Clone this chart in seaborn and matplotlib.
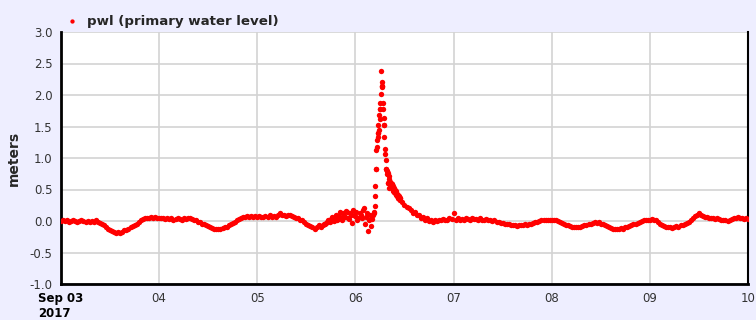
import numpy as np
import pandas as pd
import matplotlib
matplotlib.use('Agg')
import matplotlib.pyplot as plt
import seaborn as sns

# Primary water level (m), 30-minute readings, one list per day
sep03 = [0.00, 0.01, 0.00, 0.01, -0.01, 0.00, 0.01, 0.00, -0.01, 0.00, 0.01, 0.00,
         -0.01, 0.00, -0.01, 0.00, -0.01, 0.01, -0.02, -0.03, -0.05, -0.07, -0.10, -0.12,
         -0.14, -0.16, -0.18, -0.19, -0.18, -0.19, -0.17, -0.15, -0.14, -0.12, -0.10, -0.08,
         -0.06, -0.04, -0.01, 0.01, 0.03, 0.04, 0.05, 0.05, 0.06, 0.05, 0.06, 0.05]
sep04 = [0.05, 0.04, 0.05, 0.03, 0.04, 0.03, 0.04, 0.02, 0.03, 0.04, 0.03, 0.02,
         0.04, 0.03, 0.04, 0.05, 0.03, 0.02, 0.01, -0.01, -0.02, -0.04, -0.05, -0.07,
         -0.08, -0.10, -0.11, -0.12, -0.13, -0.12, -0.13, -0.11, -0.10, -0.09, -0.07, -0.05,
         -0.03, -0.01, 0.01, 0.03, 0.04, 0.06, 0.07, 0.08, 0.07, 0.08, 0.06, 0.08]
sep05 = [0.07, 0.08, 0.06, 0.07, 0.08, 0.06, 0.09, 0.07, 0.08, 0.07, 0.09, 0.12,
         0.09, 0.10, 0.08, 0.10, 0.09, 0.08, 0.07, 0.05, 0.04, 0.02, 0.01, -0.02,
         -0.04, -0.06, -0.08, -0.10, -0.12, -0.09, -0.07, -0.10, -0.06, -0.04, -0.02, 0.00,
         0.03, 0.01, 0.05, 0.02, 0.08, 0.04, 0.12, 0.06, 0.15, 0.03, 0.10, 0.18]
sep06 = [0.08, 0.01, 0.12, 0.05, 0.20, 0.06, -0.16, 0.09, 0.03, 0.14, 0.83, 1.39,
         1.77, 2.14, 1.52, 0.82, 0.60, 0.62, 0.58, 0.46, 0.45, 0.36, 0.33, 0.30,
         0.26, 0.22, 0.20, 0.17, 0.13, 0.14, 0.09, 0.10, 0.05, 0.06, 0.02, 0.04,
         0.00, 0.02, -0.01, 0.01, 0.00, 0.02, 0.01, 0.03, 0.01, 0.02, 0.04, 0.03]
sep07 = [0.13, 0.02, 0.04, 0.01, 0.03, 0.02, 0.04, 0.03, 0.02, 0.04, 0.03, 0.03,
         0.02, 0.04, 0.02, 0.01, 0.03, 0.02, 0.01, 0.00, 0.01, -0.01, -0.02, -0.03,
         -0.03, -0.04, -0.05, -0.04, -0.06, -0.07, -0.06, -0.08, -0.07, -0.06, -0.07, -0.05,
         -0.06, -0.04, -0.05, -0.03, -0.02, -0.01, 0.00, 0.01, 0.02, 0.01, 0.02, 0.02]
sep08 = [0.02, 0.01, 0.02, 0.00, -0.01, -0.03, -0.04, -0.06, -0.07, -0.08, -0.09, -0.10,
         -0.09, -0.10, -0.09, -0.08, -0.07, -0.06, -0.05, -0.04, -0.03, -0.02, -0.03, -0.02,
         -0.04, -0.05, -0.06, -0.08, -0.09, -0.11, -0.12, -0.12, -0.13, -0.12, -0.11, -0.12,
         -0.10, -0.09, -0.08, -0.07, -0.05, -0.04, -0.03, -0.02, 0.00, 0.01, 0.02, 0.01]
sep09 = [0.02, 0.03, 0.01, 0.02, -0.02, -0.04, -0.06, -0.08, -0.09, -0.10, -0.09, -0.11,
         -0.09, -0.08, -0.09, -0.07, -0.06, -0.05, -0.03, -0.01, 0.02, 0.05, 0.08, 0.10,
         0.13, 0.10, 0.08, 0.07, 0.06, 0.05, 0.04, 0.05, 0.03, 0.04, 0.03, 0.02,
         0.01, 0.02, 0.00, 0.01, 0.03, 0.04, 0.05, 0.06, 0.05, 0.04, 0.03, 0.04]
sep10 = [0.03]

# Noisy stretch before the surge, readings between the half-hours (Sep 05 16:15 on)
pre_surge = [-0.05, -0.03, 0.01, -0.02, 0.06, 0.00, 0.09, 0.03, 0.14, 0.01,
             0.08, 0.16, 0.04, 0.12, -0.03, 0.10, 0.15, 0.04, 0.09, 0.18,
             -0.05, 0.12, 0.02, -0.08, 0.10]

# Surge on Sep 06, 6-minute readings starting 04:36
surge_values = [0.12, 0.24, 0.39, 0.56, 0.83, 1.12, 1.18, 1.29, 1.34, 1.39,
                1.53, 1.45, 1.68, 1.62, 1.77, 1.88, 2.02, 2.38, 2.21, 2.14,
                2.12, 1.88, 1.77, 1.63, 1.52, 1.34, 1.14, 1.07, 0.97, 0.82,
                0.79, 0.74, 0.80, 0.76, 0.60, 0.72, 0.53, 0.66, 0.58, 0.62,
                0.55, 0.60, 0.57, 0.52, 0.58, 0.50, 0.55, 0.48, 0.52, 0.46,
                0.50, 0.44, 0.47, 0.42, 0.45, 0.40, 0.43, 0.38, 0.41, 0.36,
                0.39, 0.35, 0.37, 0.33, 0.36]

day_lists = [sep03, sep04, sep05, sep06, sep07, sep08, sep09, sep10]
tick_labels = ['Sep 03\n2017', '04', '05', '06', '07', '08', '09', '10']

start = pd.Timestamp('2017-09-03')
frames = []
for i, vals in enumerate(day_lists):
    t = start + pd.Timedelta(days=i) + pd.to_timedelta(np.arange(len(vals)) * 30, unit='min')
    frames.append(pd.DataFrame({'time': t, 'pwl': vals}))
t_pre = pd.Timestamp('2017-09-05 16:15') + pd.to_timedelta(np.arange(len(pre_surge)) * 30, unit='min')
frames.append(pd.DataFrame({'time': t_pre, 'pwl': pre_surge}))
t_surge = pd.Timestamp('2017-09-06 04:36') + pd.to_timedelta(np.arange(len(surge_values)) * 6, unit='min')
frames.append(pd.DataFrame({'time': t_surge, 'pwl': surge_values}))
df = pd.concat(frames, ignore_index=True)

sns.set_style('white')
plt.rcParams['font.family'] = ['DejaVu Sans']

fig = plt.figure(figsize=(7.56, 3.2), dpi=100)
fig.patch.set_facecolor('#EEEEFF')
ax = fig.add_axes([0.0807, 0.1125, 0.9087, 0.7875])
ax.set_facecolor('white')

sns.scatterplot(data=df, x='time', y='pwl', ax=ax, color='#FF0000', s=15,
                linewidth=0, label='pwl (primary water level)', zorder=3)

ticks = [start + pd.Timedelta(days=i) for i in range(8)]
ax.set_xlim(ticks[0], ticks[-1])
ax.set_ylim(-1.0, 3.0)
yt = np.arange(-1.0, 3.01, 0.5)
ax.set_yticks(yt)
ax.set_yticklabels([f'{v:.1f}' for v in yt])
ax.set_xticks(ticks)
ax.set_xticklabels(tick_labels)
first = ax.get_xticklabels()[0]
first.set_fontweight('bold')
first.set_multialignment('left')
first.set_color('black')

ax.grid(True, color='#D3D3D3', linewidth=1.2)
ax.set_axisbelow(True)
ax.tick_params(axis='both', direction='out', length=4, width=1, color='black',
               labelsize=8.5, pad=2)
for lab in ax.get_xticklabels()[1:] + ax.get_yticklabels():
    lab.set_color('#333333')
for side in ['left', 'bottom']:
    ax.spines[side].set_color('black')
    ax.spines[side].set_linewidth(2)
ax.spines['right'].set_color('black')
ax.spines['right'].set_linewidth(1.5)
ax.spines['top'].set_visible(False)

ax.set_xlabel('')
ax.set_ylabel('meters', fontsize=10, fontweight='bold', labelpad=6)

leg = ax.legend(loc='lower left', bbox_to_anchor=(-0.013, 0.99), frameon=False,
                prop={'weight': 'bold', 'size': 9.6}, handletextpad=0.15,
                markerscale=0.8, borderaxespad=0.1)

fig.savefig('out.png', dpi=100, facecolor=fig.get_facecolor())
